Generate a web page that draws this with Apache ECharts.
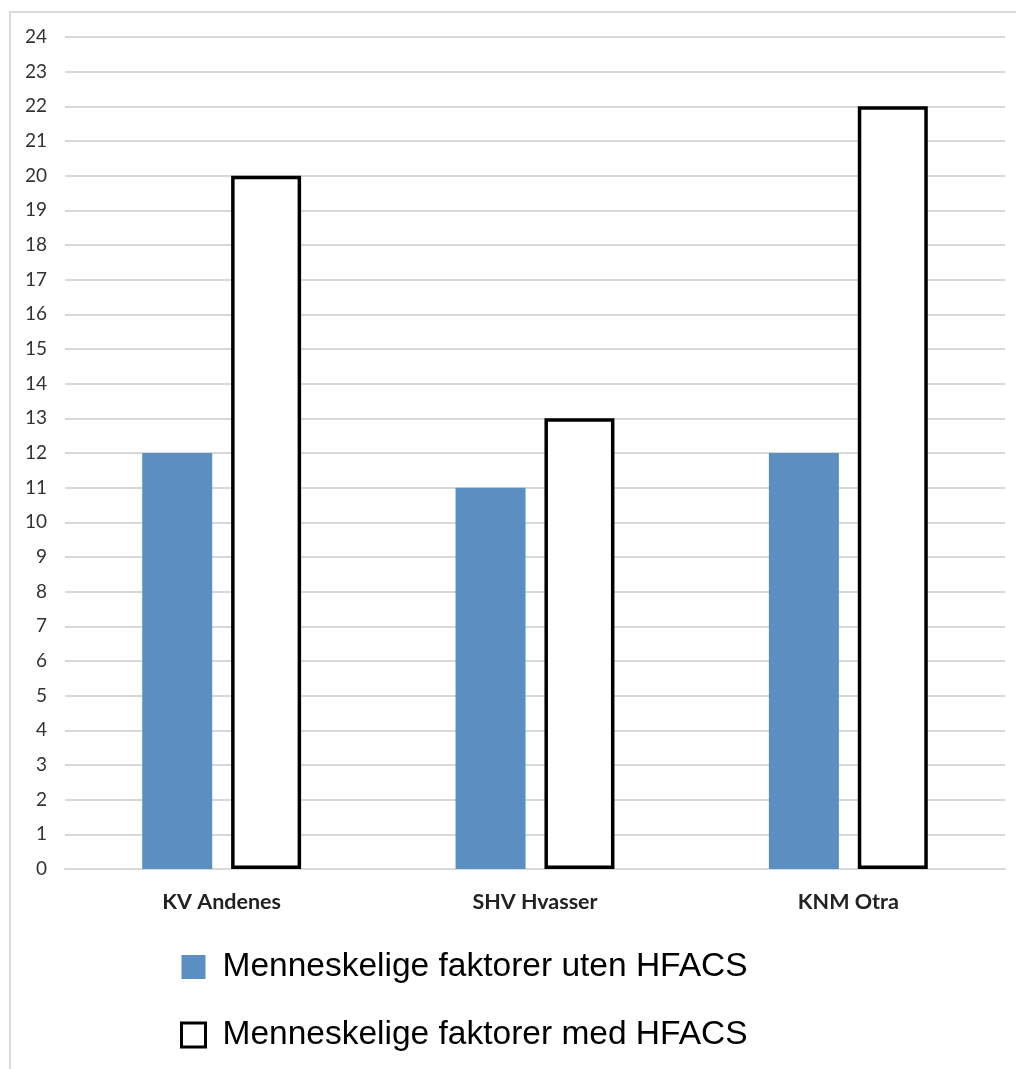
<!DOCTYPE html>
<html>
<head>
<meta charset="utf-8">
<script src="https://cdn.jsdelivr.net/npm/echarts@6/dist/echarts.min.js"></script>
<style>
html, body { margin: 0; padding: 0; background: #fff; }
#chartData { width: 1016px; height: 1069px; }
</style>
</head>
<body>
<div id="chartData"></div>
<script>
var categories = ["KV Andenes", "SHV Hvasser", "KNM Otra"];
var utenHFACS = [12, 11, 12];
var medHFACS = [20, 13, 22];
var seriesNames = ["Menneskelige faktorer uten HFACS", "Menneskelige faktorer med HFACS"];

var myChart = echarts.init(document.getElementById("chartData"));
var option = {
  animation: false,
  graphic: [{
    type: "rect",
    shape: { x: 10, y: 12, width: 1030, height: 1090 },
    style: { fill: "none", stroke: "#d9d9d9", lineWidth: 2 },
    silent: true
  }],
  grid: { left: 65, right: 11, top: 37, bottom: 200 },
  legend: {
    orient: "vertical",
    left: 175,
    top: 945,
    itemWidth: 24,
    itemHeight: 24,
    itemGap: 34,
    textStyle: { fontSize: 33.5, color: "#000", fontFamily: "Liberation Sans", padding: [0, 0, 0, 12] },
    data: [
      { name: seriesNames[0], icon: "rect" },
      { name: seriesNames[1], icon: "rect", itemStyle: { color: "#fff", borderColor: "#000", borderWidth: 3 } }
    ]
  },
  xAxis: {
    type: "category",
    data: categories,
    axisTick: { show: false },
    axisLine: { show: true, lineStyle: { color: "#d9d9d9", width: 2 } },
    axisLabel: { fontSize: 21.5, fontWeight: "bold", color: "#222", fontFamily: "Lato", margin: 22 }
  },
  yAxis: {
    type: "value",
    min: 0,
    max: 24,
    interval: 1,
    axisLine: { show: false },
    axisTick: { show: false },
    splitLine: { lineStyle: { color: "#d9d9d9", width: 2 } },
    axisLabel: { fontSize: 19, color: "#333", fontFamily: "Lato", margin: 18 }
  },
  series: [
    {
      name: seriesNames[0],
      type: "bar",
      data: utenHFACS,
      barWidth: 70,
      barGap: "27%",
      itemStyle: { color: "#5b8fc2" }
    },
    {
      name: seriesNames[1],
      type: "bar",
      data: medHFACS,
      barWidth: 70,
      itemStyle: { color: "#fff", borderColor: "#000", borderWidth: 3.5 }
    }
  ]
};
myChart.setOption(option, true);
</script>
</body>
</html>
